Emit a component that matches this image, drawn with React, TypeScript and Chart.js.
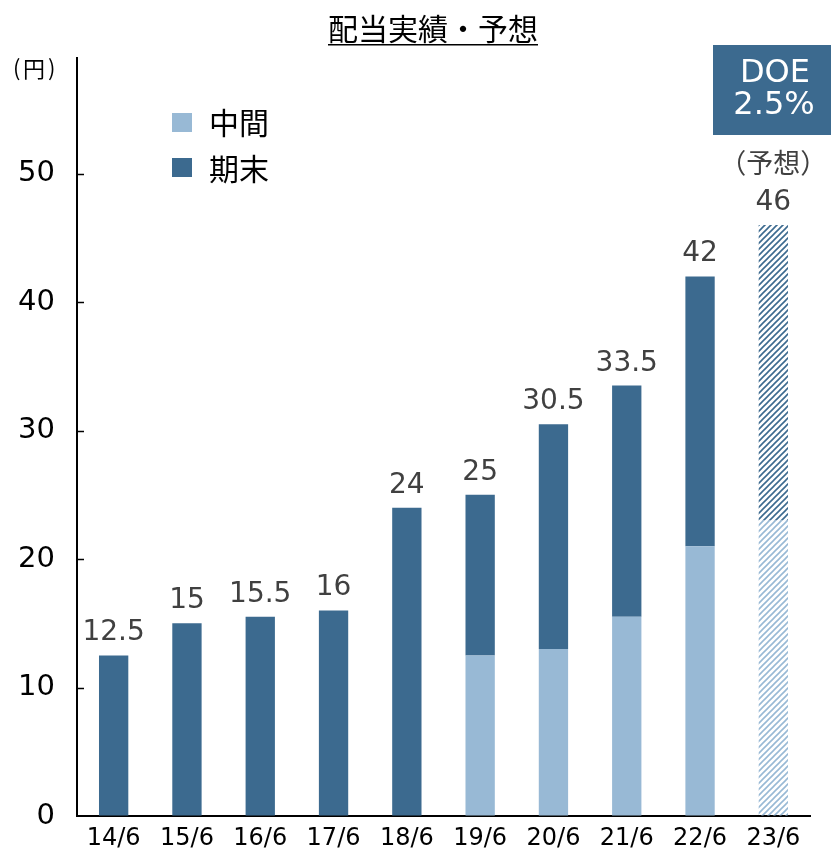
import React, { useEffect, useRef } from 'react';
import { Chart, registerables } from 'chart.js';

Chart.register(...registerables);

const categories = ['14/6', '15/6', '16/6', '17/6', '18/6', '19/6', '20/6', '21/6', '22/6', '23/6'];
const interim = [0, 0, 0, 0, 0, 12.5, 13, 15.5, 21, 23];
const yearEnd = [12.5, 15, 15.5, 16, 24, 12.5, 17.5, 18, 21, 23];
const forecastIndex = 9;
const yTicks = [0, 10, 20, 30, 40, 50];

const DARK = '#3C6A8F';
const LIGHT = '#98B9D5';
const FONT = "'Noto Sans CJK JP', 'Noto Sans', sans-serif";
const NUM = "'DejaVu Sans', 'Noto Sans', sans-serif";

function makePattern(color: string) {
  const c = document.createElement('canvas');
  c.width = 6;
  c.height = 6;
  const x = c.getContext('2d')!;
  x.strokeStyle = color;
  x.lineWidth = 1.6;
  x.beginPath();
  x.moveTo(-1, 7); x.lineTo(7, -1);
  x.moveTo(-4, 4); x.lineTo(4, -4);
  x.moveTo(2, 10); x.lineTo(10, 2);
  x.stroke();
  return x.createPattern(c, 'repeat') as CanvasPattern;
}

function fmt(v: number) {
  return Number.isInteger(v) ? String(v) : v.toFixed(1);
}

export default function App() {
  const ref = useRef<HTMLCanvasElement>(null);
  useEffect(() => {
    const canvas = ref.current!;
    const lightP = makePattern(LIGHT);
    const darkP = makePattern(DARK);
    const interimColors = categories.map((_, i) => (i === forecastIndex ? lightP : LIGHT));
    const endColors = categories.map((_, i) => (i === forecastIndex ? darkP : DARK));

    const decor = {
      id: 'decor',
      afterDraw(chart: any) {
        const ctx = chart.ctx as CanvasRenderingContext2D;
        const area = chart.chartArea;
        const ys = chart.scales.y;
        ctx.save();
        // inner ticks
        ctx.strokeStyle = '#000';
        ctx.lineWidth = 1.5;
        yTicks.forEach((t) => {
          if (t === 0) return;
          const y = Math.round(ys.getPixelForValue(t)) + 0.5;
          ctx.beginPath();
          ctx.moveTo(area.left, y);
          ctx.lineTo(area.left + 7, y);
          ctx.stroke();
        });
        // title
        ctx.fillStyle = '#000';
        ctx.font = `30px ${FONT}`;
        ctx.textAlign = 'center';
        ctx.textBaseline = 'middle';
        const title = '配当実績・予想';
        ctx.fillText(title, 433, 29);
        const tw = ctx.measureText(title).width;
        ctx.fillRect(433 - tw / 2, 44, tw, 1.5);
        // unit
        ctx.font = `22px ${FONT}`;
        ctx.textAlign = 'left';
        ctx.fillText('(', 13, 68);
        ctx.fillText('円', 23, 69);
        ctx.fillText(')', 48, 68);
        // legend
        ctx.fillStyle = LIGHT;
        ctx.fillRect(172, 113, 20, 19);
        ctx.fillStyle = DARK;
        ctx.fillRect(172, 158, 20, 19);
        ctx.fillStyle = '#000';
        ctx.font = `30px ${FONT}`;
        ctx.fillText('中間', 209, 123);
        ctx.fillText('期末', 209, 169);
        // DOE box
        ctx.fillStyle = DARK;
        ctx.fillRect(713, 45, 118, 90);
        ctx.fillStyle = '#fff';
        ctx.font = `32px ${NUM}`;
        ctx.textAlign = 'center';
        ctx.fillText('DOE', 775, 74);
        ctx.fillText('2.5%', 774, 106);
        // data labels
        const m1 = chart.getDatasetMeta(1);
        ctx.fillStyle = '#404040';
        ctx.textBaseline = 'alphabetic';
        categories.forEach((_, i) => {
          const el = m1.data[i];
          const total = interim[i] + yearEnd[i];
          ctx.font = `28px ${NUM}`;
          ctx.fillText(fmt(total), el.x, el.y - 15);
          if (i === forecastIndex) {
            ctx.font = `27px ${FONT}`;
            ctx.fillText('（予想）', el.x, el.y - 52);
          }
        });
        ctx.restore();
      },
    };

    const chart = new Chart(canvas, {
      type: 'bar',
      data: {
        labels: categories,
        datasets: [
          { label: '中間', data: interim, backgroundColor: interimColors as any, barPercentage: 0.4, categoryPercentage: 1 },
          { label: '期末', data: yearEnd, backgroundColor: endColors as any, barPercentage: 0.4, categoryPercentage: 1 },
        ],
      },
      options: {
        responsive: false,
        animation: false,
        layout: { padding: { top: 58, right: 21, left: 0, bottom: 0 } },
        plugins: { legend: { display: false }, title: { display: false }, tooltip: { enabled: false } },
        scales: {
          x: {
            stacked: true,
            grid: { display: true, drawOnChartArea: false, drawTicks: false },
            border: { display: true, color: '#000', width: 2 },
            ticks: { color: '#000', font: { family: NUM, size: 24 }, padding: 8, maxRotation: 0 },
            afterFit: (s: any) => { s.height = 35; s.paddingLeft = 0; s.paddingRight = 0; },
          },
          y: {
            stacked: true,
            min: 0,
            max: 59,
            grid: { display: true, drawOnChartArea: false, drawTicks: false },
            border: { display: true, color: '#000', width: 2 },
            ticks: { color: '#000', font: { family: NUM, size: 29 }, padding: 22, stepSize: 10 },
            afterBuildTicks: (s: any) => { s.ticks = yTicks.map((v) => ({ value: v })); },
            afterFit: (s: any) => { s.width = 77; s.paddingTop = 0; s.paddingBottom = 0; },
          },
        },
      },
      plugins: [decor],
    });
    return () => chart.destroy();
  }, []);

  return (
    <div style={{ position: 'fixed', left: 0, top: 0, width: 831, height: 851, background: '#fff' }}>
      <canvas ref={ref} width={831} height={851} style={{ display: 'block' }} />
    </div>
  );
}
